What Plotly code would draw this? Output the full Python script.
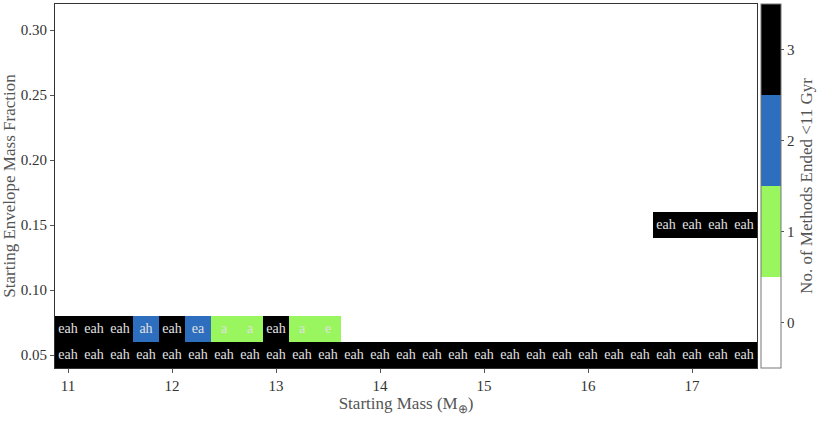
import numpy as np
import plotly.graph_objects as go

# grid of starting conditions
masses = [11.0 + 0.25 * i for i in range(27)]
fractions = [0.05 + 0.02 * j for j in range(14)]

# row at envelope fraction 0.05 (all 27 masses)
row05_counts = [3] * 27
row05_labels = ["eah"] * 27

# row at envelope fraction 0.07 (masses 11.0 .. 13.5)
row07_masses = [11.0, 11.25, 11.5, 11.75, 12.0, 12.25, 12.5, 12.75, 13.0, 13.25, 13.5]
row07_counts = [3, 3, 3, 2, 3, 2, 1, 1, 3, 1, 1]
row07_labels = ["eah", "eah", "eah", "ah", "eah", "ea", "a", "a", "eah", "a", "e"]

# row at envelope fraction 0.15 (masses 16.75 .. 17.5)
row15_masses = [16.75, 17.0, 17.25, 17.5]
row15_counts = [3, 3, 3, 3]
row15_labels = ["eah", "eah", "eah", "eah"]

colors = ["#ffffff", "#9af65f", "#2e6ebe", "#000000"]

SERIF = "Liberation Serif"

# -------------------------------------------------
# build the grid
# -------------------------------------------------
z = np.full((len(fractions), len(masses)), np.nan)
lx, ly, lt = [], [], []


def put(frac, ms, counts, labels):
    j = int(round((frac - 0.05) / 0.02))
    for m, c, l in zip(ms, counts, labels):
        i = int(round((m - 11.0) / 0.25))
        z[j, i] = c
        lx.append(m)
        ly.append(frac)
        lt.append(l)


put(0.05, masses, row05_counts, row05_labels)
put(0.07, row07_masses, row07_counts, row07_labels)
put(0.15, row15_masses, row15_counts, row15_labels)

scale = []
for k, c in enumerate(colors):
    scale.append([k / 4, c])
    scale.append([(k + 1) / 4, c])

fig = go.Figure(go.Heatmap(
    x=masses,
    y=fractions,
    z=z,
    colorscale=scale,
    zmin=-0.5,
    zmax=3.5,
    hoverongaps=False,
    colorbar=dict(
        x=1.0057,
        xanchor="left",
        xpad=0,
        ypad=0,
        y=0.5,
        len=1,
        thickness=20,
        outlinecolor="#777777",
        outlinewidth=1,
        tickvals=[0, 1, 2, 3],
        ticks="outside",
        ticklen=3,
        tickcolor="#555555",
        tickfont=dict(family=SERIF, size=15, color="#333333"),
        title=dict(text="No. of Methods Ended &lt;11 Gyr", side="right",
                   font=dict(family=SERIF, size=17, color="#555555")),
    ),
))

# cell labels
fig.add_trace(go.Scatter(
    x=lx,
    y=ly,
    text=lt,
    mode="text",
    textposition="middle center",
    textfont=dict(family=SERIF, size=14, color="#e0e0e0"),
    showlegend=False,
    hoverinfo="skip",
))

fig.update_layout(
    width=831,
    height=422,
    margin=dict(l=55, r=74, t=4, b=54, autoexpand=False),
    plot_bgcolor="white",
    paper_bgcolor="white",
    font=dict(family=SERIF, color="#333333"),
)

fig.update_xaxes(
    range=[10.875, 17.625],
    dtick=1,
    tick0=11,
    showgrid=False,
    zeroline=False,
    automargin=False,
    ticks="outside",
    ticklen=4,
    tickcolor="#555555",
    tickfont=dict(size=15, color="#333333"),
    showline=True,
    linecolor="#333333",
    mirror=True,
    title=dict(text="Starting Mass (M<sub>⊕</sub>)", standoff=4,
               font=dict(size=17, color="#555555")),
)

fig.update_yaxes(
    range=[0.04, 0.32],
    tickvals=[0.05, 0.10, 0.15, 0.20, 0.25, 0.30],
    tickformat=".2f",
    showgrid=False,
    zeroline=False,
    automargin=False,
    ticks="outside",
    ticklen=4,
    tickcolor="#555555",
    tickfont=dict(size=15, color="#333333"),
    showline=True,
    linecolor="#333333",
    mirror=True,
    title=dict(text="Starting Envelope Mass Fraction", standoff=4,
               font=dict(size=17, color="#555555")),
)

# page body has a default margin; drop it so the figure sits at 0,0
fig.write_html("out.html", config={"displayModeBar": False},
               post_script="document.body.style.margin='0';")
